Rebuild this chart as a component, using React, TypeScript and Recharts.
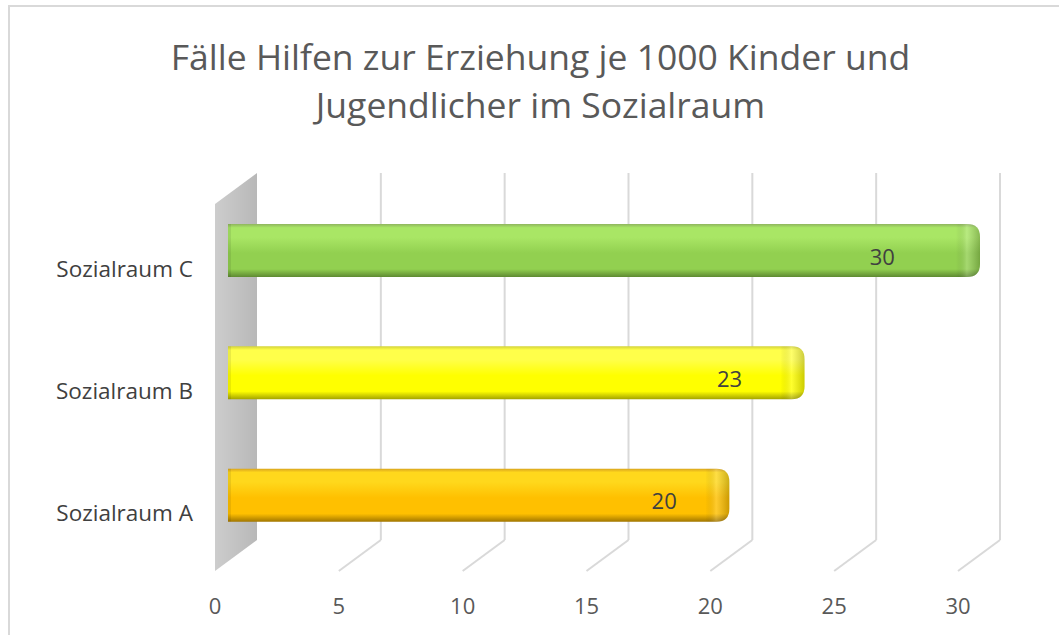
import React from 'react';
import { ComposedChart, Bar, Line, XAxis, YAxis, LabelList, CartesianGrid } from 'recharts';

const categories = ['Sozialraum C', 'Sozialraum B', 'Sozialraum A'];
const values = [30, 23, 20];
const xTicks = [0, 5, 10, 15, 20, 25, 30];
const titleLines = ['Fälle Hilfen zur Erziehung je 1000 Kinder und', 'Jugendlicher im Sozialraum'];

const barEdge = ['#8fb55e', '#d4d43a', '#d8a31e'];
const barLight = ['#a9e665', '#ffff4a', '#ffd81c'];
const barMain = ['#92d050', '#ffff00', '#ffc000'];
const barDark = ['#5e8a32', '#a3a300', '#a27700'];

const data = categories.map((c, i) => ({ name: c, value: values[i] }));

const W = 1059;
const H = 635;
const DEPTH_X = 42;
const DEPTH_Y = 31;
const BAR_SHIFT = 16;
const FONT = '"Open Sans", Lato, sans-serif';
const GRID = '#d9d9d9';

const GridLine = (props: any) => {
  const { x1, y1, y2, index } = props;
  if (index >= xTicks.length) return <g key={`gl${index}`} />;
  const top = Math.min(y1, y2);
  const bottom = Math.max(y1, y2);
  const x = x1;
  if (index === 0) {
    return (
      <g key={`gl${index}`}>
        <defs>
          <linearGradient id="wallG" x1="0" y1="0" x2="1" y2="0">
            <stop offset="0%" stopColor="#cdcdcd" />
            <stop offset="100%" stopColor="#b8b8b8" />
          </linearGradient>
        </defs>
        <polygon
          points={`${x},${bottom + DEPTH_Y} ${x},${top + DEPTH_Y} ${x + DEPTH_X},${top} ${x + DEPTH_X},${bottom}`}
          fill="url(#wallG)"
        />
      </g>
    );
  }
  return (
    <g key={`gl${index}`}>
      <line x1={x} y1={bottom + DEPTH_Y} x2={x + DEPTH_X} y2={bottom} stroke={GRID} strokeWidth={2} />
      <line x1={x + DEPTH_X} y1={bottom} x2={x + DEPTH_X} y2={top} stroke={GRID} strokeWidth={2} />
    </g>
  );
};

const FrontTick = (props: any) => {
  const { x, y, payload } = props;
  return (
    <text x={x} y={y + 65} textAnchor="middle" dominantBaseline="central" fill="#595959" fontSize={22} fontFamily={FONT}>
      {payload.value}
    </text>
  );
};

const CatTick = (props: any) => {
  const { x, y, payload } = props;
  return (
    <text x={x} y={y + 34} textAnchor="end" dominantBaseline="central" fill="#404040" fontSize={22.5} fontFamily={FONT}>
      {payload.value}
    </text>
  );
};

const BarShape = (props: any) => {
  const { x, y, width, height, index } = props;
  const yy = y + BAR_SHIFT;
  const r = 13;
  const id = `barG${index}`;
  const capId = `capG${index}`;
  const d = `M${x},${yy} H${x + width - r} Q${x + width},${yy} ${x + width},${yy + r} V${yy + height - r} Q${x + width},${yy + height} ${x + width - r},${yy + height} H${x} Z`;
  return (
    <g>
      <defs>
        <linearGradient id={id} x1="0" y1="0" x2="0" y2="1">
          <stop offset="0%" stopColor={barEdge[index]} />
          <stop offset="7%" stopColor={barLight[index]} />
          <stop offset="25%" stopColor={barLight[index]} />
          <stop offset="55%" stopColor={barMain[index]} />
          <stop offset="85%" stopColor={barMain[index]} />
          <stop offset="100%" stopColor={barDark[index]} />
        </linearGradient>
        <linearGradient id={capId} x1="0" y1="0" x2="1" y2="0">
          <stop offset="0%" stopColor="#000" stopOpacity={0} />
          <stop offset="45%" stopColor="#fff" stopOpacity={0.18} />
          <stop offset="100%" stopColor="#000" stopOpacity={0.2} />
        </linearGradient>
      </defs>
      <path d={d} fill={`url(#${id})`} />
      <path
        d={`M${x + width - 24},${yy} H${x + width - r} Q${x + width},${yy} ${x + width},${yy + r} V${yy + height - r} Q${x + width},${yy + height} ${x + width - r},${yy + height} H${x + width - 24} Z`}
        fill={`url(#${capId})`}
      />
      <rect x={x} y={yy} width={3} height={height} fill="#000" opacity={0.08} />
    </g>
  );
};

const ValueLabel = (props: any) => {
  const { x, y, width, height, value } = props;
  return (
    <text
      x={x + width * 0.87}
      y={y + height / 2 + BAR_SHIFT + 5}
      textAnchor="middle"
      dominantBaseline="central"
      fill="#404040"
      fontSize={22}
      fontFamily={FONT}
    >
      {value}
    </text>
  );
};

export default function App() {
  return (
    <div style={{ position: 'absolute', left: 0, top: 0, width: W, height: H, overflow: 'hidden', background: '#fff' }}>
      <div
        style={{
          position: 'absolute',
          left: 8,
          top: 5,
          width: W + 20,
          height: H + 20,
          border: '2px solid #d9d9d9',
          boxSizing: 'border-box',
        }}
      />
      <div
        style={{
          position: 'absolute',
          left: 0,
          top: 32,
          width: W + 22,
          textAlign: 'center',
          fontFamily: FONT,
          fontSize: 35.5,
          lineHeight: '48px',
          color: '#595959',
        }}
      >
        {titleLines.map((t) => (
          <div key={t}>{t}</div>
        ))}
      </div>
      <div style={{ position: 'absolute', left: 0, top: 0 }}>
        <ComposedChart
          width={W}
          height={H}
          data={data}
          layout="vertical"
          margin={{ top: 173, right: 60, bottom: 0, left: 0 }}
        >
          <CartesianGrid xAxisId="front" horizontal={false} vertical={GridLine} />
          <XAxis
            xAxisId="front"
            type="number"
            domain={[0, 30]}
            ticks={xTicks}
            height={95}
            padding={{ left: 0, right: 41 }}
            axisLine={false}
            tickLine={false}
            tickSize={0}
            tickMargin={0}
            tick={<FrontTick />}
            interval={0}
          />
          <XAxis xAxisId="bar" type="number" domain={[0, 30]} hide height={0} padding={{ left: 13, right: 19 }} />
          <YAxis
            type="category"
            dataKey="name"
            width={215}
            axisLine={false}
            tickLine={false}
            tickSize={0}
            tickMargin={22}
            tick={<CatTick />}
            interval={0}
          />
          <Line
            xAxisId="front"
            dataKey="value"
            stroke="none"
            dot={false}
            activeDot={false}
            legendType="none"
            isAnimationActive={false}
          />
          <Bar xAxisId="bar" dataKey="value" barSize={53} shape={<BarShape />} isAnimationActive={false}>
            <LabelList dataKey="value" content={<ValueLabel />} />
          </Bar>
        </ComposedChart>
      </div>
    </div>
  );
}
